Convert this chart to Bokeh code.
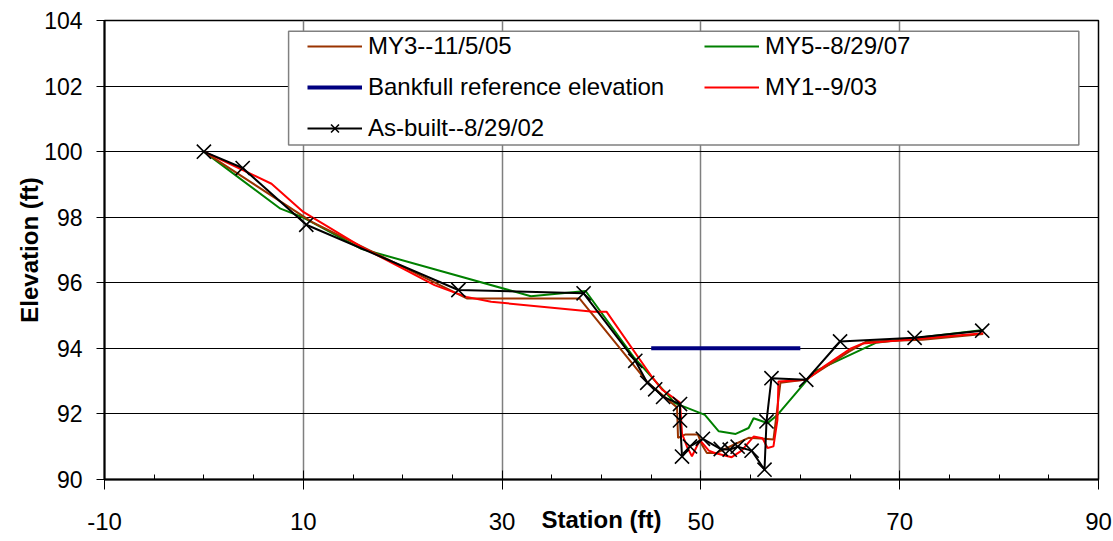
from bokeh.plotting import figure
from bokeh.models import (Range1d, FixedTicker, Legend, LegendItem, BoxAnnotation)
from bokeh.embed import file_html
from bokeh.resources import INLINE

# ---------------- data ----------------
x_ticks = [-10, 10, 30, 50, 70, 90]
x_minor = [-5, 0, 5, 15, 20, 25, 35, 40, 45, 55, 60, 65, 75, 80, 85]
y_ticks = [90, 92, 94, 96, 98, 100, 102, 104]

asbuilt_x = [0, 3.9, 10.3, 25.6, 38.2, 43.4, 44.6, 45.4, 46.2, 47.9, 47.9, 48.1, 48.9,
             50.2, 52.0, 52.9, 53.7, 55.1, 56.4, 56.6, 57.1, 60.6, 64.0, 71.5, 78.3]
asbuilt_y = [100.0, 99.5, 97.77, 95.78, 95.68, 93.62, 92.95, 92.75, 92.52, 92.3, 91.8, 90.7, 91.01,
             91.24, 90.93, 90.91, 91.0, 90.88, 90.3, 91.77, 93.09, 93.04, 94.21, 94.32, 94.54]

my3_x = [0, 10.9, 26.5, 37.8, 44.7, 47.6, 47.7, 48.4, 49.7, 50.1, 50.6, 51.6, 53.3, 54.8,
         56.4, 57.3, 58.0, 60.6, 64.9, 66.6, 72.3, 78.4]
my3_y = [100.0, 97.85, 95.52, 95.52, 92.94, 92.2, 91.27, 91.37, 91.37, 91.06, 90.81, 90.81, 91.06, 91.27,
         91.24, 91.22, 92.95, 93.05, 93.9, 94.2, 94.26, 94.44]

my1_x = [0, 6.8, 10.0, 15.8, 23.2, 26.4, 28.9, 39.2, 40.5, 45.05, 46.1, 47.9, 48.1, 48.6,
         49.1, 49.9, 50.8, 51.4, 53.1, 54.1, 55.3, 56.2, 56.7, 57.3, 57.7, 57.8, 60.6,
         62.4, 65.1, 66.3, 78.4]
my1_y = [100.0, 99.02, 98.16, 97.1, 95.93, 95.57, 95.42, 95.12, 95.12, 93.14, 92.74, 92.35, 91.4, 91.0,
         90.71, 91.2, 90.88, 90.81, 90.68, 90.88, 91.31, 91.26, 90.96, 91.01, 91.82, 92.99, 93.04,
         93.45, 94.0, 94.15, 94.46]

my5_x = [0, 7.7, 10.0, 15.8, 32.9, 38.4, 43.2, 47.4, 50.4, 51.8, 53.5, 54.8, 55.3, 56.7,
         57.7, 61.4, 67.6, 78.4]
my5_y = [100.0, 98.26, 97.99, 97.04, 95.59, 95.75, 93.75, 92.33, 91.97, 91.47, 91.39, 91.57, 91.87, 91.72,
         91.97, 93.29, 94.17, 94.56]

bankfull_x = [45, 60]
bankfull_y = [94, 94]

FONT = "Liberation Sans"

p = figure(width=1113, height=541, output_backend="svg", toolbar_location=None,
           x_range=Range1d(-10, 90), y_range=Range1d(90, 104),
           min_border_left=104, min_border_right=15, min_border_top=20, min_border_bottom=62)
p.background_fill_color = "white"
p.border_fill_color = "white"
p.outline_line_color = "black"
p.outline_line_width = 1.5

# axes
p.xaxis.ticker = FixedTicker(ticks=x_ticks, minor_ticks=x_minor)
p.yaxis.ticker = FixedTicker(ticks=y_ticks)
p.xaxis.major_label_overrides = {t: str(t) for t in x_ticks}
for ax in (p.xaxis, p.yaxis):
    ax.axis_line_color = "black"
    ax.axis_line_width = 2
    ax.major_tick_line_color = "black"
    ax.major_tick_line_width = 1
    ax.major_label_text_font = FONT
    ax.major_label_text_color = "black"
    ax.axis_label_text_font = FONT
    ax.axis_label_text_font_style = "bold"
    ax.axis_label_text_font_size = "24px"
    ax.axis_label_text_color = "black"

p.xaxis.major_tick_in = 9
p.xaxis.major_tick_out = 10
p.xaxis.minor_tick_in = 5
p.xaxis.minor_tick_out = 0
p.xaxis.minor_tick_line_color = "black"
p.xaxis.major_label_text_font_size = "24px"
p.xaxis.major_label_standoff = 23
p.xaxis.axis_label = "Station (ft)"
p.xaxis.axis_label_standoff = -27

p.yaxis.major_tick_in = 0
p.yaxis.major_tick_out = 8
p.yaxis.minor_tick_line_color = None
p.yaxis.major_label_text_font_size = "23px"
p.yaxis.major_label_standoff = 14
p.yaxis.axis_label = "Elevation (ft)"
p.yaxis.axis_label_standoff = -2

p.xgrid.grid_line_color = "#7f7f7f"
p.xgrid.grid_line_width = 1.5
p.ygrid.grid_line_color = "black"
p.ygrid.grid_line_width = 1

# series
r_my5 = p.line(my5_x, my5_y, line_color="#008000", line_width=2)
r_my3 = p.line(my3_x, my3_y, line_color="#993300", line_width=2)
r_my1 = p.line(my1_x, my1_y, line_color="#FF0000", line_width=2)
r_bank = p.line(bankfull_x, bankfull_y, line_color="#000080", line_width=4)
r_ab = p.line(asbuilt_x, asbuilt_y, line_color="black", line_width=2)
r_abm = p.scatter(asbuilt_x, asbuilt_y, marker="x", size=20, line_color="black", line_width=1.6)

# legend box
box = BoxAnnotation(left=8.52, right=88.02, top=103.67, bottom=100.2,
                    fill_color="white", fill_alpha=1.0,
                    line_color="#808080", line_width=1.5, line_alpha=1.0)
p.add_layout(box)

def make_legend(items, loc):
    lg = Legend(items=items, location=loc, orientation="vertical",
                padding=0, margin=0, spacing=13,
                glyph_width=55, glyph_height=28, label_height=28,
                label_standoff=6, label_text_font=FONT, label_text_font_size="24px",
                label_text_color="black",
                border_line_color=None, background_fill_alpha=0.0)
    return lg

leg1 = make_legend([
    LegendItem(label="MY3--11/5/05", renderers=[r_my3]),
    LegendItem(label="Bankfull reference elevation", renderers=[r_bank]),
    LegendItem(label="As-built--8/29/02", renderers=[r_ab, r_abm]),
], (203, 337))
leg2 = make_legend([
    LegendItem(label="MY5--8/29/07", renderers=[r_my5]),
    LegendItem(label="MY1--9/03", renderers=[r_my1]),
], (600, 378))
p.add_layout(leg1)
p.add_layout(leg2)

open("out.html", "w").write(file_html(p, INLINE))
